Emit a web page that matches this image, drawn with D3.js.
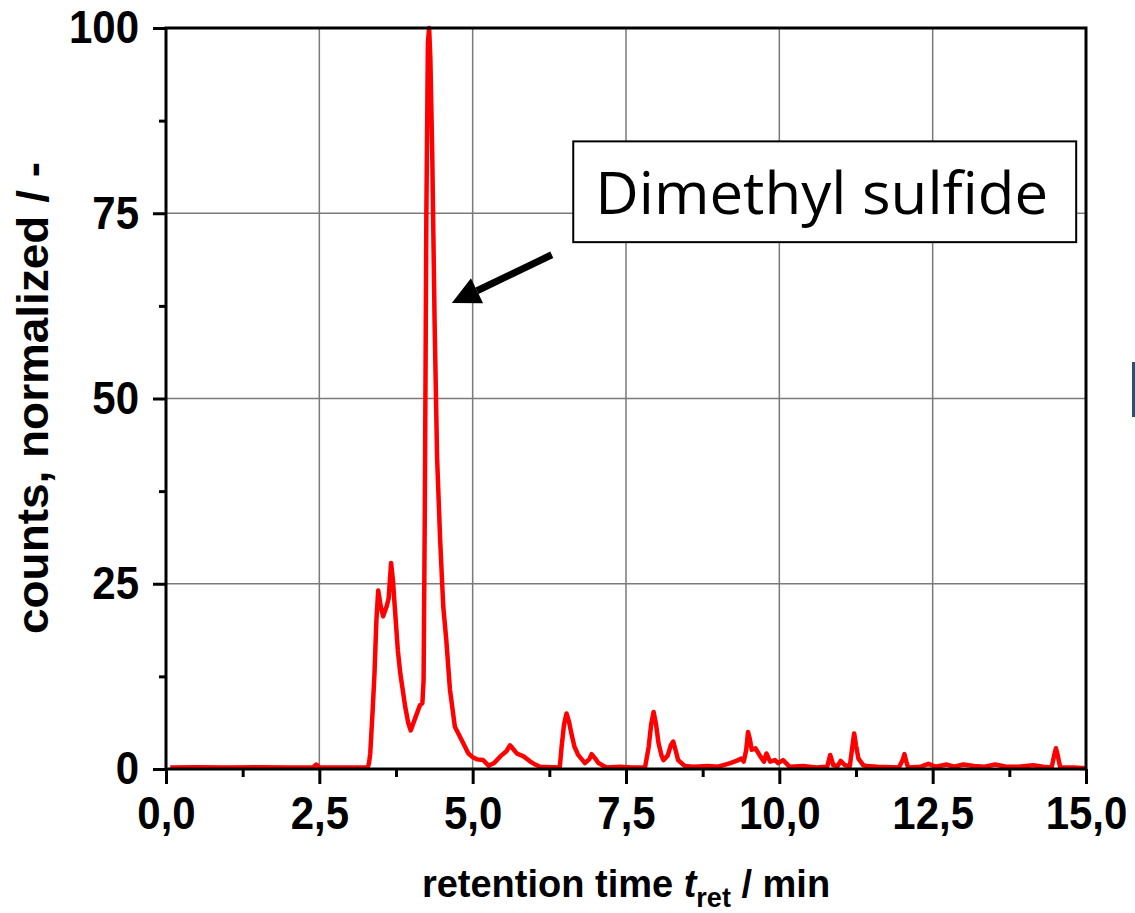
<!DOCTYPE html>
<html><head><meta charset="utf-8">
<script src="https://cdn.jsdelivr.net/npm/d3@7"></script>
<style>html,body{margin:0;padding:0;background:#fff;}svg{display:block;}
.stretch{transform-box:fill-box;transform-origin:center;transform:scaleY(1.09);}
</style>
</head><body>
<script>
const times = [0.07,0.5,1.0,1.5,2.0,2.4,2.45,2.5,3.0,3.29,3.31,3.33,3.37,3.40,3.43,3.46,3.50,3.54,3.60,3.63,3.67,3.70,3.73,3.78,3.82,3.90,3.95,3.99,4.06,4.14,4.18,4.20,4.22,4.245,4.27,4.29,4.31,4.34,4.38,4.42,4.47,4.52,4.57,4.63,4.71,4.82,4.93,5.00,5.07,5.17,5.26,5.35,5.45,5.55,5.61,5.66,5.72,5.83,5.94,6.02,6.10,6.3,6.42,6.45,6.49,6.53,6.57,6.61,6.66,6.72,6.83,6.90,6.94,7.00,7.05,7.18,7.4,7.6,7.81,7.87,7.91,7.95,7.99,8.03,8.08,8.11,8.18,8.23,8.27,8.31,8.35,8.46,8.6,8.83,9.0,9.2,9.30,9.38,9.42,9.46,9.49,9.52,9.55,9.61,9.69,9.75,9.79,9.85,9.93,9.98,10.06,10.17,10.39,10.6,10.78,10.83,10.88,10.95,11.0,11.07,11.15,11.19,11.22,11.25,11.29,11.37,11.42,11.6,11.95,12.01,12.04,12.07,12.1,12.3,12.43,12.55,12.73,12.85,13.0,13.17,13.35,13.52,13.7,13.9,14.14,14.3,14.44,14.48,14.51,14.54,14.58,14.8,15.0];
const counts = [0.2,0.25,0.2,0.25,0.2,0.25,0.6,0.25,0.2,0.2,0.8,2.1,8,13,20,24.1,22,20.6,22,23,27.8,25.5,21.9,16,12.9,8.4,6.2,5.2,6.8,8.6,8.9,12,35,75,98,100,96,83.5,60,42,30.9,22,17.4,10.7,5.7,3.9,2.1,1.6,1.3,1.2,0.45,0.8,1.7,2.4,3.2,2.7,2.1,1.7,1.0,0.6,0.3,0.25,0.2,3.0,6.0,7.5,6.4,4.8,3.0,1.9,0.8,1.3,2.0,1.4,0.8,0.2,0.3,0.2,0.2,3.0,6.0,7.7,6.0,3.5,1.8,1.2,1.8,3.2,3.7,2.5,1.2,0.4,0.3,0.4,0.3,0.8,1.1,1.4,1.0,2.6,5.0,4.0,2.6,2.8,1.7,1.0,2.1,1.0,1.2,0.8,1.2,0.3,0.4,0.2,0.3,1.9,0.5,0.4,1.1,0.5,0.4,3.0,4.8,3.2,1.4,0.5,0.4,0.3,0.2,1.2,2.0,1.0,0.2,0.3,0.7,0.3,0.6,0.3,0.6,0.4,0.3,0.6,0.3,0.3,0.5,0.3,0.2,1.8,2.8,1.8,0.2,0.2,0.1];
const xTicks = [0, 2.5, 5, 7.5, 10, 12.5, 15];
const xTickLabels = ["0,0","2,5","5,0","7,5","10,0","12,5","15,0"];
const xMinor = [1.25, 3.75, 6.25, 8.75, 11.25, 13.75];
const yTicks = [0, 25, 50, 75, 100];
const yMinor = [12.5, 37.5, 62.5, 87.5];
const annotationText = "Dimethyl sulfide";

const W = 1135, H = 913;
const L = 166, R = 1086, T = 28, B = 769;
const svg = d3.select("body").append("svg").attr("width", W).attr("height", H);
const x = d3.scaleLinear().domain([0, 15]).range([L, R]);
const y = d3.scaleLinear().domain([0, 100]).range([B, T]);

// grid
const g = svg.append("g");
g.selectAll("line.gx").data(xTicks.slice(1, -1)).enter().append("line")
  .attr("x1", d => x(d)).attr("x2", d => x(d)).attr("y1", T).attr("y2", B)
  .attr("stroke", "#7a7a7a").attr("stroke-width", 1.5);
g.selectAll("line.gy").data(yTicks.slice(1, -1)).enter().append("line")
  .attr("x1", L).attr("x2", R).attr("y1", d => y(d)).attr("y2", d => y(d))
  .attr("stroke", "#7a7a7a").attr("stroke-width", 1.5);

// data line
const pts = times.map((t, i) => [t, counts[i]]);
svg.append("path").datum(pts)
  .attr("d", d3.line().x(d => x(d[0])).y(d => y(d[1])))
  .attr("fill", "none").attr("stroke", "#ff0000").attr("stroke-width", 4.5)
  .attr("stroke-linejoin", "round");

// axes
const fontTick = "'Liberation Sans', Arial, sans-serif";
const xAxis = d3.axisBottom(x).tickValues(xTicks).tickSize(15).tickFormat((d, i) => xTickLabels[i]).tickPadding(14);
const xg = svg.append("g").attr("transform", `translate(0,${B})`).call(xAxis);
const yAxis = d3.axisLeft(y).tickValues(yTicks).tickSize(13).tickFormat(d3.format("d")).tickPadding(14);
const yg = svg.append("g").attr("transform", `translate(${L},0)`).call(yAxis);
[xg, yg].forEach(a => {
  a.select(".domain").remove();
  a.selectAll("line").attr("stroke", "#000").attr("stroke-width", 3);
  a.selectAll("text").attr("font-family", fontTick).attr("font-weight", "bold").attr("font-size", 42).attr("fill", "#000").attr("class", "stretch");
});
const xm = svg.append("g").attr("transform", `translate(0,${B})`).call(d3.axisBottom(x).tickValues(xMinor).tickSize(8).tickFormat(""));
const ym = svg.append("g").attr("transform", `translate(${L},0)`).call(d3.axisLeft(y).tickValues(yMinor).tickSize(7).tickFormat(""));
[xm, ym].forEach(a => { a.select(".domain").remove(); a.selectAll("line").attr("stroke", "#000").attr("stroke-width", 3); });

// frame
svg.append("rect").attr("x", L).attr("y", T).attr("width", R - L).attr("height", B - T)
  .attr("fill", "none").attr("stroke", "#000").attr("stroke-width", 3);

// axis titles
const xt = svg.append("text").attr("x", 626).attr("y", 897).attr("text-anchor", "middle")
  .attr("font-family", fontTick).attr("font-weight", "bold").attr("font-size", 38).attr("fill", "#000");
xt.append("tspan").text("retention time ");
xt.append("tspan").attr("font-style", "italic").text("t");
xt.append("tspan").attr("font-size", 27).attr("dy", 10).text("ret");
xt.append("tspan").attr("dy", -10).text(" / min");

svg.append("text").attr("transform", "translate(48,398) rotate(-90)").attr("text-anchor", "middle")
  .attr("font-family", fontTick).attr("font-weight", "bold").attr("font-size", 44).attr("fill", "#000")
  .attr("textLength", 472).attr("lengthAdjust", "spacingAndGlyphs")
  .text("counts, normalized / -");

// annotation
const bx0 = x(6.64), bx1 = x(14.84), by0 = y(84.7), by1 = y(71.1);
svg.append("rect").attr("x", bx0).attr("y", by0).attr("width", bx1 - bx0).attr("height", by1 - by0)
  .attr("fill", "#fff").attr("stroke", "#000").attr("stroke-width", 2);
svg.append("text").attr("x", bx0 + 22).attr("y", by0 + 73)
  .attr("font-family", "'Open Sans', 'Noto Sans', sans-serif").attr("font-size", 59).attr("fill", "#000")
  .attr("textLength", 453).attr("lengthAdjust", "spacingAndGlyphs")
  .text(annotationText);

// arrow
const tx = x(4.66), ty = y(62.9), sx = x(6.29), sy = y(69.4);
const ang = Math.atan2(ty - sy, tx - sx);
const hl = 28, hw = 14;
const bxp = tx - hl * Math.cos(ang), byp = ty - hl * Math.sin(ang);
svg.append("line").attr("x1", sx).attr("y1", sy).attr("x2", bxp).attr("y2", byp)
  .attr("stroke", "#000").attr("stroke-width", 7);
svg.append("path").attr("d", `M${tx},${ty} L${bxp + hw * Math.sin(ang)},${byp - hw * Math.cos(ang)} L${bxp - hw * Math.sin(ang)},${byp + hw * Math.cos(ang)} Z`)
  .attr("fill", "#000");

// slide artifact at right edge
svg.append("rect").attr("x", 1132).attr("y", 362).attr("width", 3).attr("height", 55).attr("fill", "#2e4d7b");
</script>
</body></html>
